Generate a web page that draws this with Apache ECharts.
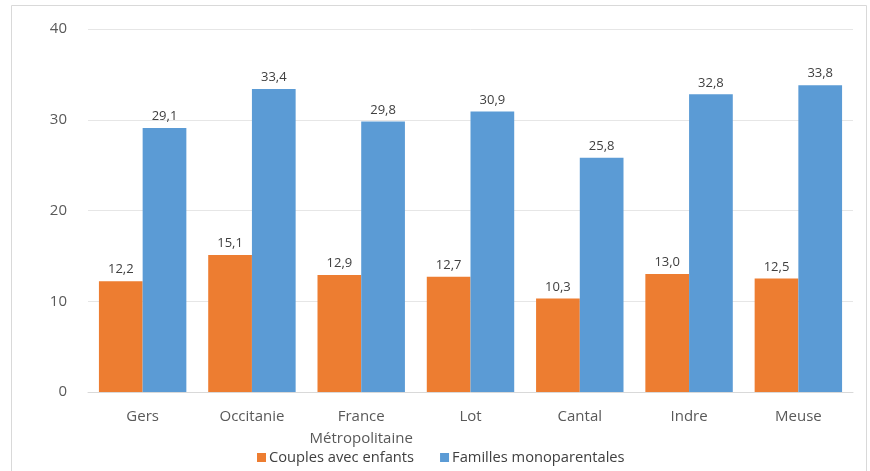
<!DOCTYPE html>
<html><head><meta charset="utf-8">
<script src="https://cdn.jsdelivr.net/npm/echarts@6/dist/echarts.min.js"></script>
<style>html,body{margin:0;padding:0;background:#fff}#c{width:870px;height:471px}</style>
</head><body><div id="c"></div>
<script>
const categories = ['Gers', 'Occitanie', 'France\nMétropolitaine', 'Lot', 'Cantal', 'Indre', 'Meuse'];
const couples = [12.2, 15.1, 12.9, 12.7, 10.3, 13.0, 12.5];
const monoparentales = [29.1, 33.4, 29.8, 30.9, 25.8, 32.8, 33.8];
const seriesNames = ['Couples avec enfants', 'Familles monoparentales'];
const yTicks = {min: 0, max: 40, interval: 10};

const font = '"Open Sans", sans-serif';
const chart = echarts.init(document.getElementById('c'));
const lbl = {show: true, position: 'top', distance: 5, fontFamily: font, fontSize: 13, color: '#404040',
  formatter: p => p.value.toFixed(1).replace('.', ',')};
chart.setOption({
  animation: false,
  graphic: [{type: 'rect', shape: {x: 11.5, y: 5.5, width: 855, height: 480}, style: {fill: 'none', stroke: '#d9d9d9', lineWidth: 1}, silent: true}],
  grid: {left: 88, right: 17, top: 29, bottom: 79},
  legend: {data: seriesNames, bottom: 1, left: 252, itemWidth: 9, itemHeight: 9, itemGap: 26, icon: 'rect',
    textStyle: {fontFamily: font, fontSize: 14.7, color: '#404040', padding: [0, 0, 0, -2]}},
  xAxis: {type: 'category', data: categories,
    axisLine: {lineStyle: {color: '#d9d9d9'}}, axisTick: {show: false},
    axisLabel: {fontFamily: font, fontSize: 15, color: '#595959', margin: 14, lineHeight: 22, interval: 0}},
  yAxis: {type: 'value', min: yTicks.min, max: yTicks.max, interval: yTicks.interval,
    axisLine: {show: false}, axisTick: {show: false},
    splitLine: {lineStyle: {color: '#e6e6e6'}},
    axisLabel: {fontFamily: font, fontSize: 15, color: '#595959', margin: 21}},
  series: [
    {name: seriesNames[0], type: 'bar', data: couples, barGap: '0%', barCategoryGap: '20%', itemStyle: {color: '#ED7D31'}, label: lbl},
    {name: seriesNames[1], type: 'bar', data: monoparentales, itemStyle: {color: '#5B9BD5'}, label: lbl}
  ]
});
</script></body></html>
